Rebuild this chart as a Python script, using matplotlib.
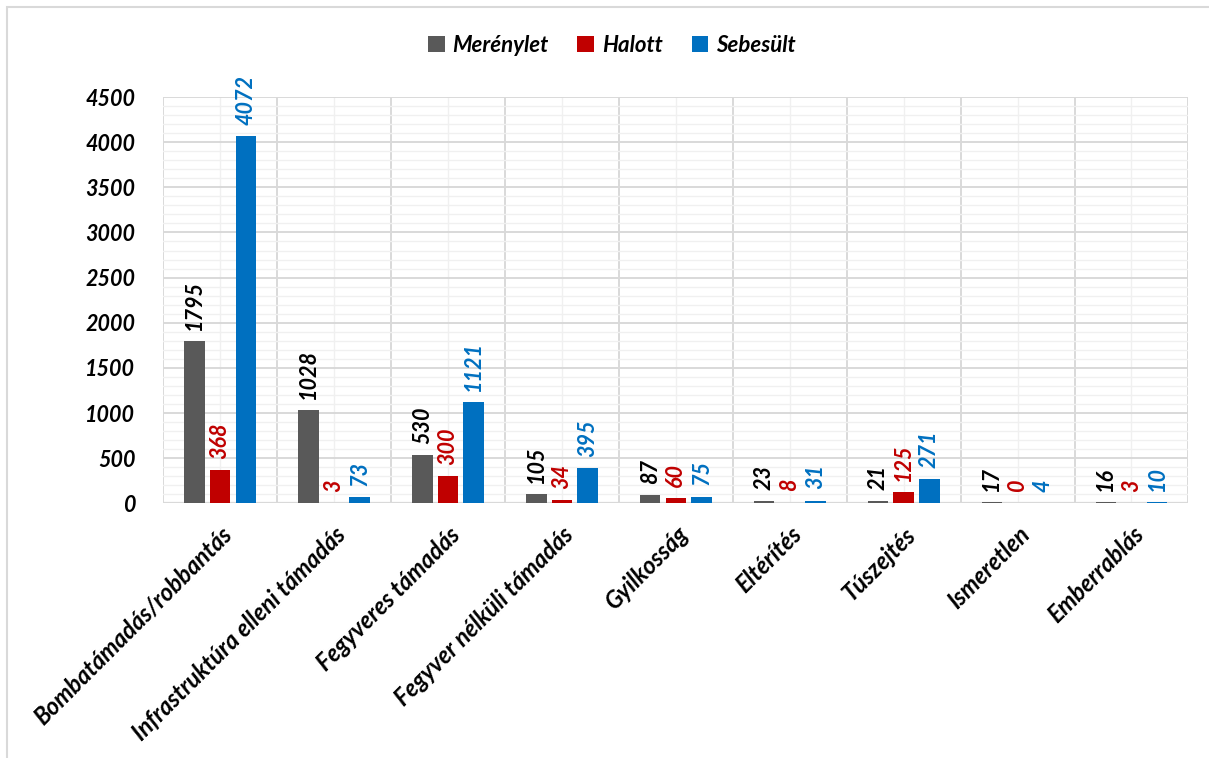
import matplotlib.pyplot as plt
import numpy as np
from matplotlib.patches import Rectangle

plt.rcParams['font.family'] = ['Lato', 'DejaVu Sans']

categories = ['Bombatámadás/robbantás', 'Infrastruktúra elleni támadás', 'Fegyveres támadás',
              'Fegyver nélküli támadás', 'Gyilkosság', 'Eltérítés', 'Túszejtés',
              'Ismeretlen', 'Emberrablás']
merenylet = [1795, 1028, 530, 105, 87, 23, 21, 17, 16]
halott = [368, 3, 300, 34, 60, 8, 125, 0, 3]
sebesult = [4072, 73, 1121, 395, 75, 31, 271, 4, 10]
series_names = ['Merénylet', 'Halott', 'Sebesült']

colors = ['#595959', '#C00000', '#0070C0']
label_colors = ['#000000', '#C00000', '#0070C0']

fig = plt.figure(figsize=(12.09, 7.58), dpi=100)
ax = fig.add_axes([0.135, 0.336, 0.848, 0.536])

x = np.arange(len(categories))
offsets = [-0.225, 0.0, 0.225]
width = 0.18
handles = []
for vals, off, col, lcol, name in zip([merenylet, halott, sebesult], offsets, colors, label_colors, series_names):
    bars = ax.bar(x + off, vals, width, color=col, label=name, zorder=3)
    handles.append(bars)
    for xi, v in zip(x, vals):
        ax.annotate(str(v), (xi + off, v), xytext=(0, 8), textcoords='offset points',
                    rotation=90, ha='center', va='bottom', color=lcol,
                    fontsize=15.5, fontweight='bold', fontstyle='italic')

ax.set_xlim(-0.5, len(categories) - 0.5)
ax.set_ylim(0, 4500)

# category boundaries as major grid, centers as minor (with labels)
ax.set_xticks(np.arange(-0.5, len(categories), 1.0))
ax.set_xticklabels([])
ax.set_xticks(x, categories, minor=True)
ax.set_yticks(np.arange(0, 4501, 500))
ax.set_yticks(np.arange(0, 4501, 100), minor=True)

ax.grid(which='major', color='#D9D9D9', linewidth=1.4, zorder=0)
ax.grid(which='minor', color='#F0F0F0', linewidth=1.0, zorder=0)
ax.set_axisbelow(True)

ax.tick_params(axis='both', which='both', length=0)
ax.tick_params(axis='y', pad=20)
for lbl in ax.get_yticklabels():
    lbl.set_fontsize(15.5)
    lbl.set_fontweight('bold')
    lbl.set_fontstyle('italic')
for lbl in ax.get_xticklabels(minor=True):
    lbl.set_fontsize(17)
    lbl.set_fontweight('bold')
    lbl.set_fontstyle('italic')
    lbl.set_rotation(45)
    lbl.set_ha('right')
    lbl.set_rotation_mode('anchor')
ax.tick_params(axis='x', which='minor', pad=14)

for s in ax.spines.values():
    s.set_visible(False)
ax.axhline(0, color='#D9D9D9', linewidth=1.6, zorder=2)

leg = fig.legend(handles=handles, labels=series_names, loc='center', bbox_to_anchor=(0.506, 0.94),
                 ncol=3, frameon=False, handlelength=0.75, handleheight=0.75, columnspacing=1.3,
                 handletextpad=0.35, prop={'size': 16, 'weight': 'bold', 'style': 'italic'})

fig.patches.append(Rectangle((7 / 1209, -0.05), 1.1, 1 - 7 / 758 + 0.05, transform=fig.transFigure,
                             fill=False, edgecolor='#D9D9D9', linewidth=1.5))

fig.savefig('out.png', dpi=100)
